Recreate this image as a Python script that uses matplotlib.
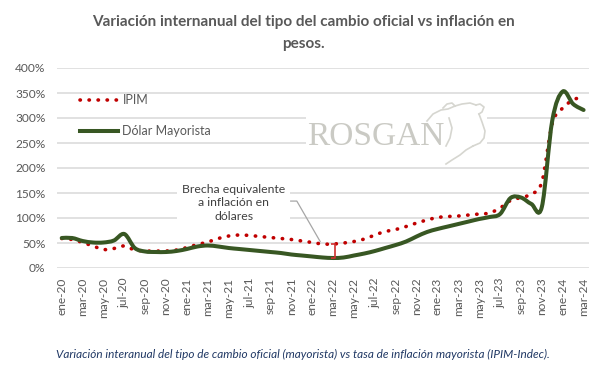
import numpy as np
import matplotlib
matplotlib.use("Agg")
import matplotlib.pyplot as plt
from matplotlib.path import Path
from matplotlib.patches import PathPatch, Rectangle
from matplotlib.lines import Line2D

# ---------------- data ----------------
mes = ["ene", "feb", "mar", "abr", "may", "jun", "jul", "ago", "sep", "oct", "nov", "dic"]
months = [f"{mes[m]}-{y}" for y in range(20, 25) for m in range(12)][:51]   # ene-20 .. mar-24

ipim = [59, 57, 51, 44, 37, 39, 44, 36, 34, 34,
        34, 36, 41, 47, 52, 59, 64, 66, 65, 63,
        61, 59, 57, 54, 51, 48, 48, 50, 53, 58,
        66, 73, 77, 83, 90, 96, 101, 103, 104, 106,
        108, 110, 120, 135, 141, 148, 172, 289, 320, 336,
        343]

dolar = [60, 60, 54, 51, 51, 55, 68, 40, 33, 32,
         32, 34, 38, 43, 45, 43, 40, 38, 36, 34,
         32, 30, 27, 25, 23, 21, 20, 21, 25, 29,
         34, 40, 46, 53, 63, 72, 78, 83, 88, 93,
         98, 102, 108, 140, 141, 128, 122, 295, 353, 328,
         316]

yticks = [0, 50, 100, 150, 200, 250, 300, 350, 400]
ytick_labels = [f"{v}%" for v in yticks]

title = "Variación internanual del tipo del cambio oficial vs inflación en\npesos."
caption = ("Variación interanual del tipo de cambio oficial (mayorista) vs tasa de "
           "inflación mayorista (IPIM-Indec).")
note = "Brecha equivalente\na inflación en\ndólares"

RED = "#C00000"
GREEN = "#385723"
GRID = "#D9D9D9"
TXT = "#595959"

plt.rcParams["font.family"] = ["Lato", "DejaVu Sans"]

W, H = 607, 375
fig = plt.figure(figsize=(W / 100, H / 100), dpi=100)
fig.patch.set_facecolor("white")

L, R, T, B = 56.5, 588.8, 68, 268
ax = fig.add_axes([L / W, 1 - B / H, (R - L) / W, (B - T) / H])
ax.set_xlim(-0.5, len(months) - 0.5)
ax.set_ylim(0, 400)
for s in ax.spines.values():
    s.set_visible(False)
ax.set_yticks(yticks)
ax.set_yticklabels(ytick_labels)
ax.set_xticks(np.arange(0, len(months), 2))
ax.set_xticklabels(months[::2], rotation=90)
ax.tick_params(axis="both", length=0, colors=TXT, labelsize=8.6)
ax.tick_params(axis="y", pad=8)
ax.tick_params(axis="x", pad=7)
ax.grid(axis="y", color=GRID, lw=1.1, zorder=0)
ax.set_axisbelow(True)


def smooth_path(y):
    x = np.arange(len(y), dtype=float)
    pts = np.column_stack([x, np.asarray(y, dtype=float)])
    verts = [pts[0]]
    codes = [Path.MOVETO]
    n = len(pts)
    for i in range(n - 1):
        p0 = pts[i - 1] if i > 0 else pts[i]
        p1 = pts[i]
        p2 = pts[i + 1]
        p3 = pts[i + 2] if i + 2 < n else pts[i + 1]
        verts += [p1 + (p2 - p0) / 6, p2 - (p3 - p1) / 6, p2]
        codes += [Path.CURVE4] * 3
    return Path(verts, codes)


# watermark (white plate + logo)
ax.add_patch(Rectangle((0.468, 0.54), 0.34, 0.25, transform=ax.transAxes,
                       facecolor="white", edgecolor="none", zorder=1))
ax.text(0.60, 0.655, "ROSGAN", transform=ax.transAxes, ha="center", va="center",
        family=["Liberation Serif"], fontsize=24, color="#CACAC4", zorder=2)


def px(x, y):
    return (x / W, 1 - y / H)


head = [
    [(427, 121), (433, 114), (441, 110), (448, 109), (455, 106)],
    [(443, 108), (447, 104), (452, 103), (455, 106)],
    [(455, 106), (462, 104), (470, 103), (476, 105)],
    [(476, 105), (480, 104), (484, 107), (482, 112), (479, 114)],
    [(479, 114), (482, 122), (485, 131), (484, 138), (480, 143), (473, 146)],
    [(473, 146), (466, 150), (460, 155), (452, 160), (446, 164)],
    [(449, 118), (452, 128), (450, 138), (446, 146)],
]
for seg in head:
    xs, ys = zip(*[px(*p) for p in seg])
    fig.add_artist(Line2D(xs, ys, color="#D6D6D0", lw=1.2, transform=fig.transFigure, zorder=3))

# series
DOT = (0, (0.1, 2.4))
ax.add_patch(PathPatch(smooth_path(ipim), facecolor="none", edgecolor=RED, lw=2.6,
                       linestyle=DOT, capstyle="round", zorder=4))
ax.add_patch(PathPatch(smooth_path(dolar), facecolor="none", edgecolor=GREEN, lw=2.9,
                       capstyle="round", joinstyle="round", zorder=5))

# legend
handles = [Line2D([], [], color=RED, lw=2.6, linestyle=DOT, dash_capstyle="round"),
           Line2D([], [], color=GREEN, lw=2.9)]
leg = ax.legend(handles, ["IPIM", "Dólar Mayorista"], loc="upper left",
                bbox_to_anchor=((80 - L) / (R - L), (B - 94) / (B - T)),
                frameon=False, fontsize=9, handlelength=3.0, handletextpad=0.4,
                labelspacing=1.55, borderpad=0, borderaxespad=0)
for t in leg.get_texts():
    t.set_color(TXT)

# annotation
k = 26
ax.annotate(note, xy=(k - 1.1, ipim[k - 1]), xytext=(16.5, 130), textcoords="data",
            ha="center", va="center", multialignment="center", fontsize=8.8, color="#404040",
            linespacing=1.3,
            bbox=dict(boxstyle="square,pad=0.4", fc="white", ec="none"),
            arrowprops=dict(arrowstyle="-", color="#A6A6A6", lw=0.9, relpos=(1, 0.55),
                            shrinkA=0, shrinkB=2,
                            connectionstyle="angle,angleA=0,angleB=-60,rad=0"),
            zorder=6)

# bracket between the two series
bx = k + 0.2
ax.plot([bx - 0.4, bx, bx, bx - 0.4], [ipim[k], ipim[k], dolar[k], dolar[k]],
        color="#D03030", lw=1.2, zorder=6, solid_capstyle="butt")

fig.text(0.5, 1 - 33 / H, title, ha="center", va="center", fontsize=11,
         fontweight="bold", color=TXT, linespacing=1.75)
fig.text(56 / W, 1 - 354 / H, caption, ha="left", va="center", fontsize=8.5,
         style="italic", color="#203864")

fig.savefig("out.png", dpi=100, facecolor="white")
